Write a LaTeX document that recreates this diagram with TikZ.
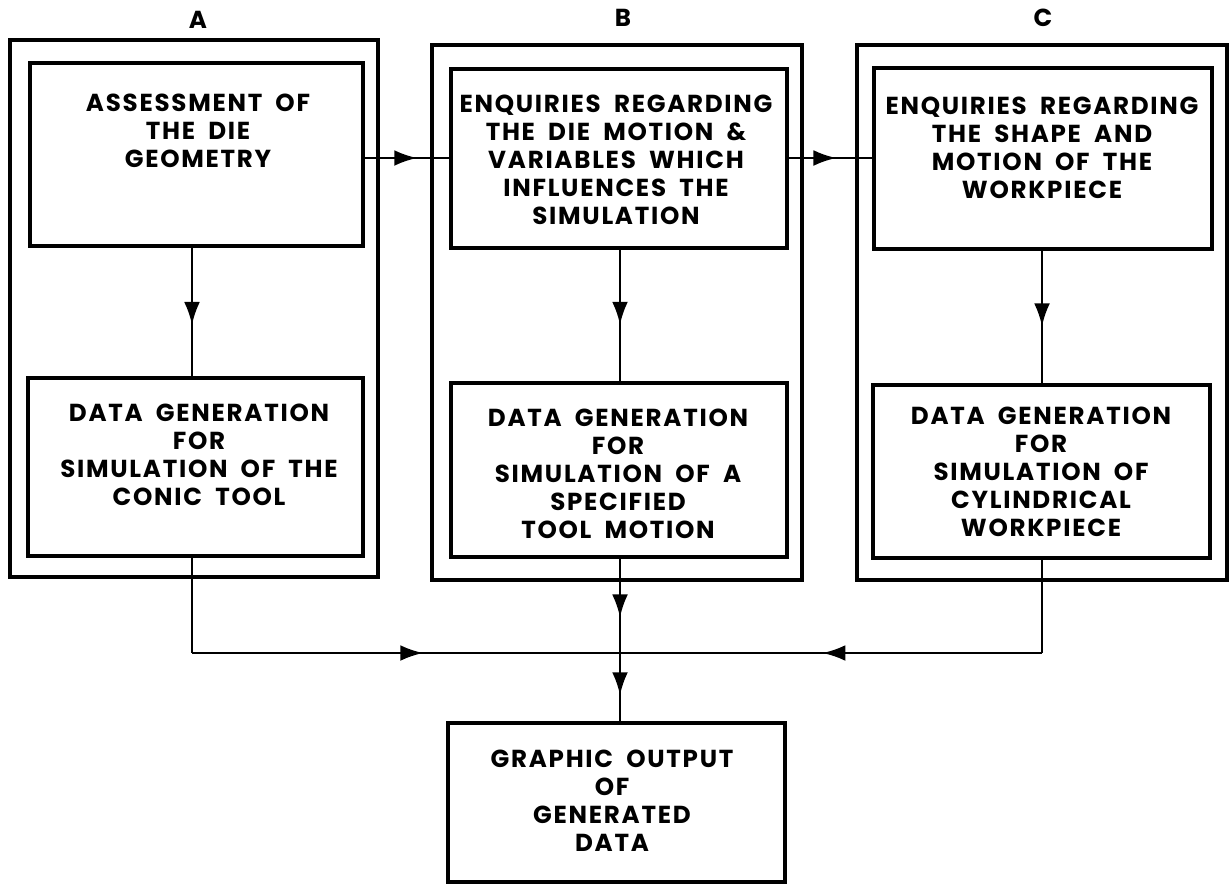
\documentclass[tikz,border=0pt]{standalone}
\usepackage{fontspec}
\setmainfont{Poppins}
\newfontfamily\lettering{Poppins}[LetterSpace=7, WordSpace=1.9]
\usetikzlibrary{arrows.meta,decorations.markings,fit}

\tikzset{
  outerbox/.style={draw, line width=1.8pt, inner sep=0pt},
  innerbox/.style={draw, line width=2.2pt, inner sep=0pt},
  flow/.style={line width=1.4pt},
  caption/.style={align=center, inner sep=0pt,
    font=\lettering\bfseries\fontsize{14}{16}\selectfont},
  colhead/.style={inner sep=0pt, font=\lettering\bfseries\fontsize{14}{16}\selectfont},
  midarrow/.style={postaction={decorate}, decoration={markings,
    mark=at position #1 with {\arrow{Latex[length=13pt,width=9pt]}}}},
  twoarrows/.style 2 args={postaction={decorate}, decoration={markings,
    mark=at position #1 with {\arrow{Latex[length=13pt,width=9pt]}},
    mark=at position #2 with {\arrow{Latex[length=13pt,width=9pt]}}}},
}

\begin{document}
\begin{tikzpicture}[x=0.02cm, y=-0.02cm]
  \useasboundingbox (0,0) rectangle (1229,886);

  % column headings
  \node[colhead] (hA) at (198,20) {A};
  \node[colhead] (hB) at (623,18) {B};
  \node[colhead] (hC) at (1043,18) {C};

  % column frames
  \node[outerbox, fit={(10,40) (378,577)}] (fA) {};
  \node[outerbox, fit={(432,45) (802,580)}] (fB) {};
  \node[outerbox, fit={(857,45) (1227,580)}] (fC) {};

  % upper boxes
  \node[innerbox, fit={(30,63) (363,246)}] (a1) {};
  \node[innerbox, fit={(451,69) (787,248)}] (b1) {};
  \node[innerbox, fit={(874,68) (1212,249)}] (c1) {};

  % lower boxes
  \node[innerbox, fit={(28,378) (363,556)}] (a2) {};
  \node[innerbox, fit={(451,383) (787,557)}] (b2) {};
  \node[innerbox, fit={(873,385) (1210,558)}] (c2) {};

  % output box
  \node[innerbox, fit={(448,723) (785,882)}] (d) {};

  % texts
  \node[caption] (a1t) at (198,131) {ASSESSMENT OF\\THE DIE\\GEOMETRY};
  \node[caption] (b1t) at (616,160) {ENQUIRIES REGARDING\\THE DIE MOTION \&\\VARIABLES WHICH\\INFLUENCES THE\\SIMULATION};
  \node[caption] (c1t) at (1042,148) {ENQUIRIES REGARDING\\THE SHAPE AND\\MOTION OF THE\\WORKPIECE};
  \node[caption] (a2t) at (199,455) {DATA GENERATION\\FOR\\SIMULATION OF THE\\CONIC TOOL};
  \node[caption] (b2t) at (618,474) {DATA GENERATION\\FOR\\SIMULATION OF A\\SPECIFIED\\TOOL MOTION};
  \node[caption] (c2t) at (1041,472) {DATA GENERATION\\FOR\\SIMULATION OF\\CYLINDRICAL\\WORKPIECE};
  \node[caption] (dt) at (612,801) {GRAPHIC OUTPUT\\OF\\GENERATED\\DATA};

  % joints of the collecting line
  \coordinate (ja) at (192,653);
  \coordinate (jc) at (1042,653);
  \coordinate (jb) at (620,653);

  % connectors between the upper boxes
  \draw[flow, midarrow=0.62] (a1.east |- 0,158) -- (b1.west |- 0,158);
  \draw[flow, midarrow=0.57] (b1.east |- 0,158) -- (c1.west |- 0,158);

  % connectors inside the columns
  \draw[flow, midarrow=0.6] (a1.south -| ja) -- (a2.north -| ja);
  \draw[flow, midarrow=0.57] (b1.south -| jb) -- (b2.north -| jb);
  \draw[flow, midarrow=0.57] (c1.south -| jc) -- (c2.north -| jc);

  % collecting line to the output box
  \draw[flow] (a2.south -| ja) -- (ja);
  \draw[flow, midarrow=0.54] (ja) -- (jb);
  \draw[flow] (c2.south -| jc) -- (jc);
  \draw[flow, midarrow=0.52] (jc) -- (jb);
  \draw[flow, twoarrows={0.36}{0.84}] (b2.south -| jb) -- (d.north -| jb);
\end{tikzpicture}
\end{document}
